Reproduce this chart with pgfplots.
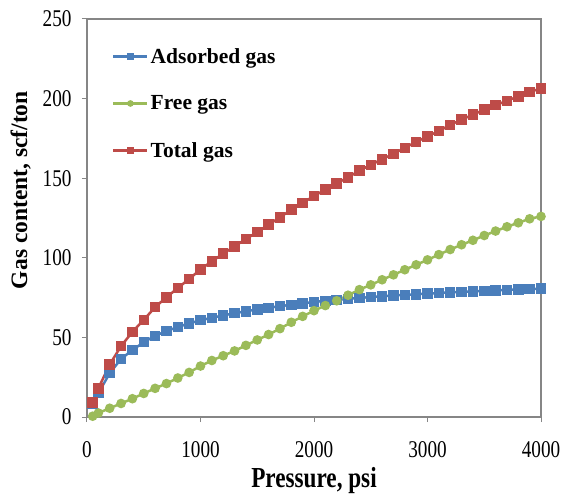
\documentclass[border=0pt]{standalone}
\usepackage{fontspec}
\setmainfont{Liberation Serif}[FakeStretch=0.8]
\newfontfamily\plainserif{Liberation Serif}
\usepackage{pgfplots}
\pgfplotsset{compat=1.18}
\usepackage{pgfplotstable}
\definecolor{cblue}{HTML}{4A7EBB}
\definecolor{cgreen}{HTML}{9BBB59}
\definecolor{cred}{HTML}{BE4B48}
\definecolor{cframe}{HTML}{868686}

\pgfplotstableread{
P adsorbed free total
50 8.5 0.5 9
100 15 2.5 18
200 27.5 5.5 33
300 36.5 8.5 44.5
400 42 11.5 53.5
500 47 14.8 61
600 51 18 69
700 54 21 75.2
800 56.5 24.5 81
900 58.8 28 86.7
1000 60.8 32 92.7
1100 62.3 35.5 97.8
1200 63.8 38.5 102.6
1300 65.2 41.5 107.2
1400 66.4 45 111.8
1500 67.6 48.4 116.2
1600 68.6 51.8 120.8
1700 69.6 55.5 125.4
1800 70.5 59.5 130.2
1900 71.4 63.2 134.5
2000 72.2 66.8 138.8
2100 73 70 142.9
2200 73.6 73 146.8
2300 74.2 76.5 150.5
2400 74.8 80 154.8
2500 75.3 83 158.4
2600 75.8 86.2 161.9
2700 76.3 89.3 165.3
2800 76.7 92.5 169.1
2900 77.1 95.6 172.8
3000 77.5 98.7 176.3
3100 77.9 102 179.6
3200 78.3 105.2 183.5
3300 78.6 108.2 186.8
3400 78.9 111 189.9
3500 79.2 114 193
3600 79.5 116.8 195.9
3700 79.8 119.5 198.6
3800 80.1 122 201.4
3900 80.4 124.5 204.2
4000 80.6 126 206.3
}\gasdata

\begin{document}
\begin{tikzpicture}
\useasboundingbox (-87pt,-86pt) rectangle (474pt,417pt);
\begin{axis}[
  at={(0pt,0pt)}, anchor=south west,
  scale only axis,
  width=454pt, height=398pt,
  xmin=0, xmax=4000, ymin=0, ymax=250,
  xtick={0,1000,2000,3000,4000},
  ytick={0,50,100,150,200,250},
  /pgf/number format/assume math mode=true,
  /pgf/number format/set thousands separator={},
  tick align=outside,
  tick pos=left,
  major tick length=5pt,
  tick style={cframe, line width=1pt},
  axis line style={cframe, line width=1.6pt},
  ticklabel style={font=\fontsize{24}{28}\selectfont, black},
  xticklabel style={yshift=-16pt},
  yticklabel style={xshift=-7pt},
  xlabel={Pressure, psi},
  ylabel={Gas content, scf/ton},
  xlabel style={font=\fontsize{29}{33}\selectfont\bfseries, at={(axis description cs:0.5,-0.176)}, anchor=base},
  ylabel style={font=\plainserif\fontsize{23.5}{27}\selectfont\bfseries, at={(axis description cs:-0.132,0.57)}, anchor=base},
  legend style={draw=none, fill=none, at={(axis description cs:0.055,0.932)}, anchor=north west,
    font=\plainserif\fontsize{21.5}{25}\selectfont\bfseries, row sep=27pt, inner sep=0pt,
    /tikz/every even column/.append style={column sep=1pt}},
  legend cell align=left,
  legend image code/.code={\draw[mark repeat=2,mark phase=2,#1, mark size=2pt] plot coordinates {(0pt,0pt)(17pt,0pt)(34pt,0pt)};},
]
\addplot[cblue, line width=2.5pt, mark=square*, mark size=4pt, mark options={solid}] table[x=P,y=adsorbed]{\gasdata};
\addlegendentry{Adsorbed gas}
\addplot[cgreen, line width=2.5pt, mark=*, mark size=3.5pt, mark options={solid}] table[x=P,y=free]{\gasdata};
\addlegendentry{Free gas}
\addplot[cred, line width=2.5pt, mark=square*, mark size=4pt, mark options={solid}] table[x=P,y=total]{\gasdata};
\addlegendentry{Total gas}
\end{axis}
\end{tikzpicture}
\end{document}
